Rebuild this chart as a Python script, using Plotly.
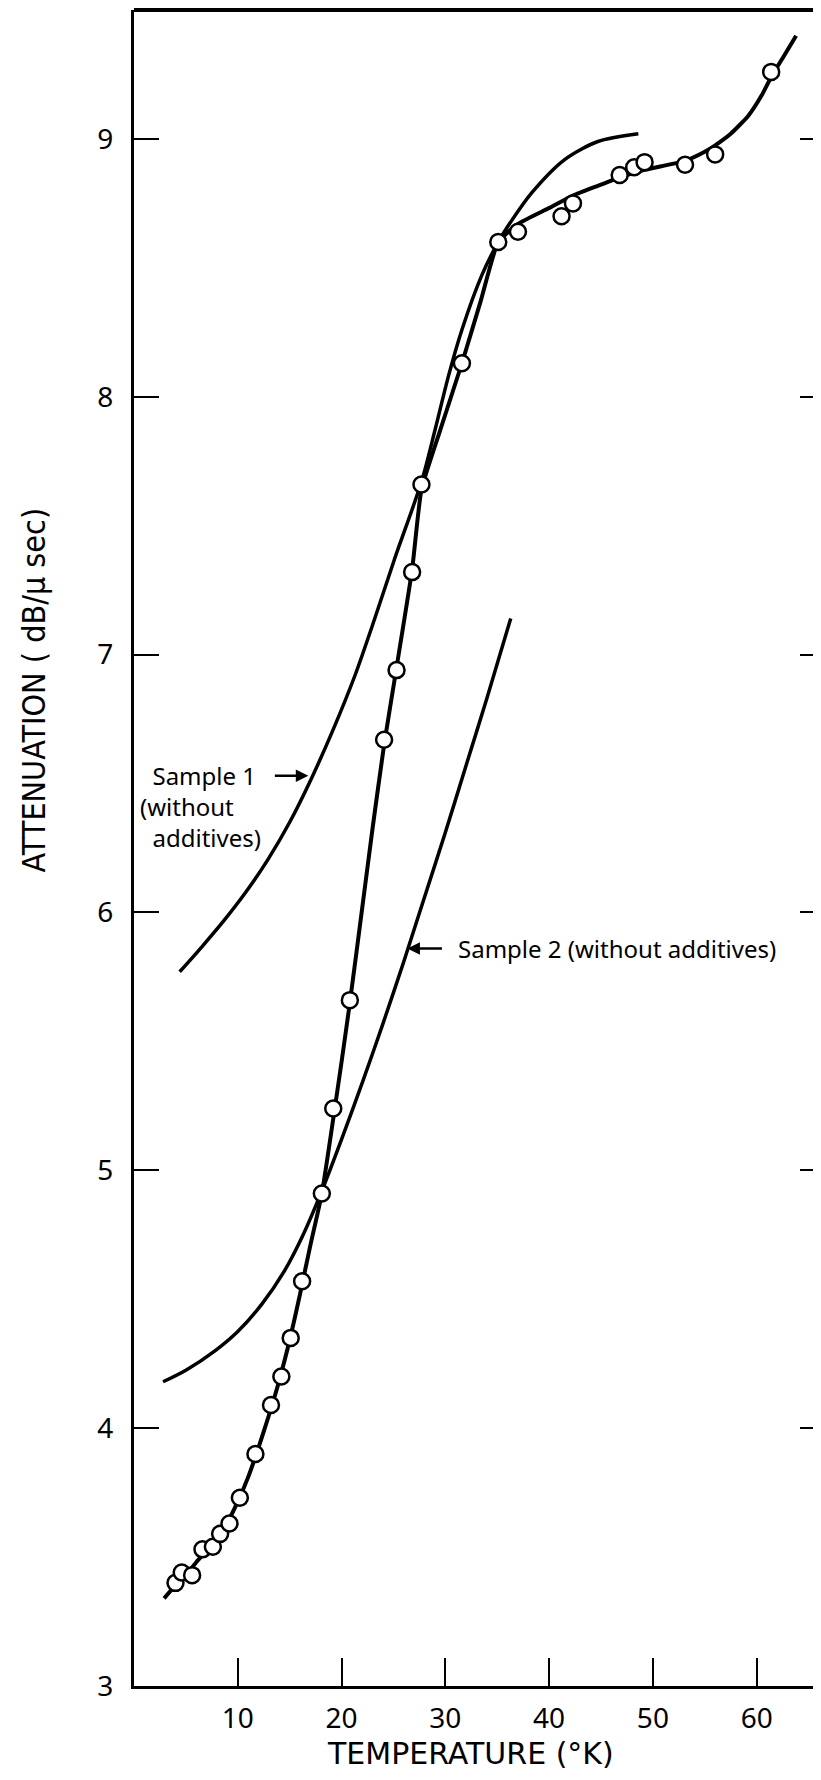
import plotly.graph_objects as go

# ---- data ----
temp_pts = [4.0, 4.6, 5.6, 6.6, 7.6, 8.3, 9.2, 10.2, 11.7, 13.2, 14.2, 15.1, 16.2, 18.1, 19.2,
            20.8, 24.1, 25.3, 26.8, 27.7, 31.6, 35.1, 37.0, 41.2, 42.3, 46.8, 48.2, 49.2, 53.1, 56.0, 61.4]
att_pts = [3.40, 3.44, 3.43, 3.53, 3.54, 3.59, 3.63, 3.73, 3.90, 4.09, 4.20, 4.35, 4.57, 4.91, 5.24,
           5.66, 6.67, 6.94, 7.32, 7.66, 8.13, 8.60, 8.64, 8.70, 8.75, 8.86, 8.89, 8.91, 8.90, 8.94, 9.26]

fit_t = [2.9, 4.0, 5.0, 6.0, 7.0, 8.0, 9.0, 10.0, 11.0, 12.0, 13.0, 14.0, 15.0, 16.0, 17.0, 18.1,
         19.2, 20.0, 20.8, 22.0, 23.0, 24.1, 25.3, 26.8, 27.7, 29.5, 31.6, 33.4, 35.1, 37.0, 39.9,
         42.3, 44.5, 46.8, 49.2, 53.1, 55.0, 56.0, 57.5, 59.2, 60.5, 61.4, 62.6, 63.8]
fit_a = [3.34, 3.39, 3.43, 3.48, 3.525, 3.575, 3.635, 3.715, 3.81, 3.925, 4.05, 4.185, 4.34, 4.52,
         4.71, 4.91, 5.20, 5.42, 5.65, 6.02, 6.33, 6.65, 6.95, 7.33, 7.64, 7.87, 8.13, 8.37, 8.60,
         8.67, 8.73, 8.78, 8.815, 8.85, 8.88, 8.915, 8.95, 8.975, 9.02, 9.09, 9.17, 9.24, 9.32, 9.40]

s1_t = [4.4, 6.5, 8.7, 10.8, 12.9, 15.0, 17.1, 19.2, 21.3, 23.2, 25.1, 27.7, 29.0, 30.3,
        31.6, 33.5, 35.1, 36.5, 38.3, 41.5, 44.7, 48.6]
s1_a = [5.77, 5.865, 5.97, 6.08, 6.205, 6.35, 6.52, 6.71, 6.92, 7.14, 7.37, 7.67, 7.87, 8.08,
        8.26, 8.47, 8.60, 8.69, 8.79, 8.92, 8.99, 9.02]

s2_t = [2.8, 5.0, 7.8, 10.0, 12.3, 14.5, 16.3, 18.1, 20.0, 22.0, 24.0, 26.0, 28.0, 30.0, 32.0, 34.0, 36.3]
s2_a = [4.18, 4.225, 4.30, 4.375, 4.48, 4.61, 4.75, 4.92, 5.12, 5.34, 5.57, 5.81, 6.06, 6.31, 6.57, 6.83, 7.14]

x_ticks = [10, 20, 30, 40, 50, 60]
y_ticks = [3, 4, 5, 6, 7, 8, 9]

TICKFONT = dict(family="Noto Sans, DejaVu Sans, sans-serif", size=28, color="black")
XTITLEFONT = dict(family="DejaVu Sans, sans-serif", size=30, color="black")
YTITLEFONT = dict(family="DejaVu Sans Condensed, DejaVu Sans, sans-serif", size=32, color="black")
LABELFONT = dict(family="Noto Sans, DejaVu Sans, sans-serif", size=24, color="black")

fig = go.Figure()
fig.add_trace(go.Scatter(x=s1_t, y=s1_a, mode="lines", line=dict(color="black", width=3.5, shape="spline", smoothing=0.8),
                         hoverinfo="skip"))
fig.add_trace(go.Scatter(x=s2_t, y=s2_a, mode="lines", line=dict(color="black", width=3.5, shape="spline", smoothing=0.8),
                         hoverinfo="skip"))
fig.add_trace(go.Scatter(x=fit_t, y=fit_a, mode="lines", line=dict(color="black", width=4, shape="spline", smoothing=0.5),
                         hoverinfo="skip"))
fig.add_trace(go.Scatter(x=temp_pts, y=att_pts, mode="markers",
                         marker=dict(symbol="circle", size=16, color="white", line=dict(color="black", width=2.5))))
# helper trace so the right-hand tick axis is drawn
fig.add_trace(go.Scatter(x=[None], y=[None], yaxis="y2", mode="markers", hoverinfo="skip"))

# the page body adds an 8 px offset, so the figure is sized to fit the window
fig.update_layout(
    width=813, height=1772,
    margin=dict(l=126, r=0, t=2, b=94),
    plot_bgcolor="white", paper_bgcolor="white",
    showlegend=False,
    xaxis=dict(range=[0, 66.2], tickvals=x_ticks, ticktext=[str(v) for v in x_ticks],
               ticks="inside", ticklen=28, tickwidth=2, tickcolor="black",
               showline=True, linewidth=3, linecolor="black",
               showgrid=False, zeroline=False, tickfont=TICKFONT, ticklabelstandoff=5),
    yaxis=dict(range=[3, 9.5], tickvals=y_ticks, ticktext=[str(v) for v in y_ticks],
               ticks="inside", ticklen=25, tickwidth=2, tickcolor="black",
               showline=True, linewidth=3, linecolor="black",
               showgrid=False, zeroline=False, tickfont=TICKFONT, ticklabelstandoff=12),
    yaxis2=dict(range=[3, 9.5], overlaying="y", side="right", anchor="x",
                tickvals=y_ticks[1:], ticks="inside", ticklen=21, tickwidth=2, tickcolor="black",
                showticklabels=False, showline=False, showgrid=False, zeroline=False),
)

fig.add_shape(type="line", xref="paper", yref="paper", x0=0, x1=1, y0=1, y1=1,
              line=dict(color="black", width=4))

NB = "\u00a0"
ann = []
ann.append(dict(text="ATTENUATION ( dB/\u03bc sec)", textangle=-90, xref="paper", x=-0.1456,
                yref="y", y=6.865, showarrow=False, xanchor="center", yanchor="middle", font=YTITLEFONT))
ann.append(dict(text="TEMPERATURE (\u00b0K)", xref="x", x=32.4, yref="paper", y=-0.0400,
                showarrow=False, xanchor="center", yanchor="middle", font=XTITLEFONT))
ann.append(dict(text=NB * 2 + "Sample 1<br>(without<br>" + NB * 2 + "additives)", xref="x", x=0.39,
                yref="y", y=6.41, showarrow=False, align="left",
                xanchor="left", yanchor="middle", font=LABELFONT))
ann.append(dict(text="", xref="x", x=16.8, yref="y", y=6.53, showarrow=True, ax=-35, ay=0,
                arrowhead=2, arrowsize=1, arrowwidth=2.5, arrowcolor="black"))
ann.append(dict(text="Sample 2 (without additives)", xref="x", x=31.0, yref="y", y=5.86, showarrow=False,
                xanchor="left", yanchor="middle", font=LABELFONT))
ann.append(dict(text="", xref="x", x=26.35, yref="y", y=5.86, showarrow=True, ax=36, ay=0,
                arrowhead=2, arrowsize=1, arrowwidth=2.5, arrowcolor="black"))
fig.update_layout(annotations=ann)

fig.write_html("out.html")
